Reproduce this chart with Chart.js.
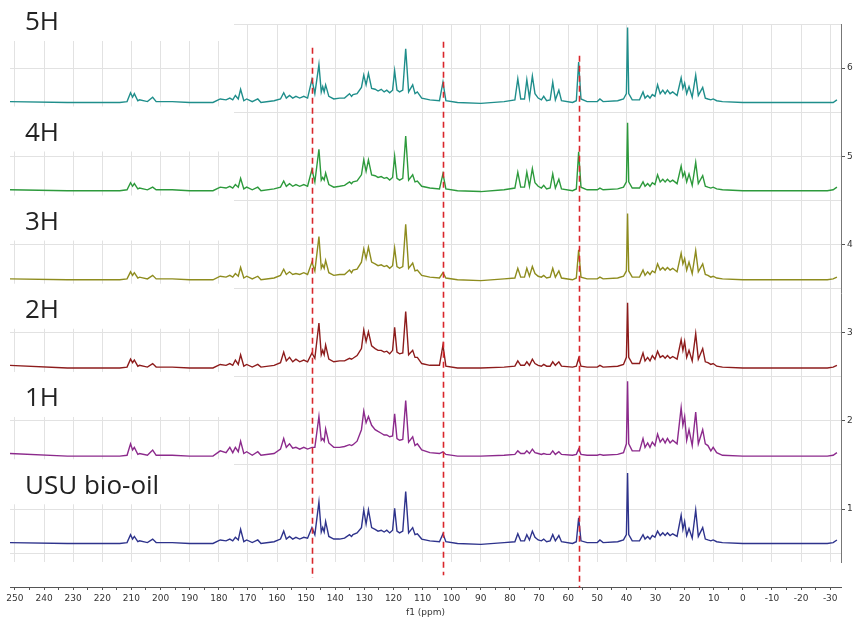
<!DOCTYPE html>
<html>
<head>
<meta charset="utf-8">
<script src="https://cdn.jsdelivr.net/npm/chart.js@4.4.1/dist/chart.umd.min.js"></script>
<style>
  html, body { margin: 0; padding: 0; background: #fff; }
  #wrap { width: 855px; height: 619px; position: relative; }
</style>
</head>
<body>
<div id="wrap"><canvas id="nmr-stack"></canvas></div>
<script>
// chemical shift points (ppm), shared by all traces
var ppm = [
  252, 232, 214, 211.5, 210.3, 209.6, 209.0, 207.8, 207.2, 204.5,
  202.7, 201.5, 196, 190, 182, 179.5, 177.5, 176.2, 175.2, 174.3,
  173.3, 172.5, 171.4, 170.4, 168.5, 166.6, 165.5, 161, 158.8, 157.7,
  156.8, 155.7, 154.6, 153.5, 152.2, 150.8, 149.5, 148.0, 147.0, 145.6,
  144.8, 144.3, 143.8, 143.3, 142.2, 140.5, 138.5, 136.8, 135.1, 134.4,
  133.9, 132.5, 131.0, 130.2, 129.4, 128.6, 127.5, 126.3, 125.3, 124.2,
  123.2, 122.3, 121.3, 120.3, 119.6, 118.8, 117.9, 116.8, 115.8, 114.8,
  113.4, 112.6, 111.8, 110.3, 107.5, 104.2, 103.0, 102.0, 98, 90,
  82, 78.3, 77.3, 76.3, 75.0, 74.2, 73.3, 72.3, 71.4, 70.3,
  69.2, 68.4, 67.4, 66.2, 65.3, 64.4, 63.2, 62.3, 58.5, 57.2,
  56.4, 55.6, 53.5, 50, 49.1, 48, 43, 41.0, 40.0, 39.6,
  39.2, 38.0, 35.5, 34.3, 33.6, 32.7, 31.9, 31.1, 30.2, 29.3,
  28.4, 27.5, 26.7, 25.9, 25.0, 24.1, 22.6, 21.2, 20.6, 20.0,
  19.3, 18.5, 17.4, 16.2, 15.3, 13.8, 12.9, 12.0, 11.0, 10.2,
  9.0, 7.0, 0, -10, -20, -29, -31, -32.3
];

// sample names (top to bottom) and the stacking offset of each baseline
var names = ['5H', '4H', '3H', '2H', '1H', 'USU bio-oil'];
var offsets = [5.61, 4.61, 3.6, 2.6, 1.6, 0.61];

// intensities above baseline, one value per ppm point
var h5H = [
  0.01,0,0,0.01,0.11,0.06,0.10,0.02,0.03,0.01,
  0.06,0.01,0.01,0,0,0.04,0.03,0.05,0.03,0.08,
  0.04,0.15,0.02,0.04,0.01,0.04,0,0.02,0.04,0.11,
  0.05,0.08,0.05,0.07,0.05,0.07,0.05,0.26,0.10,0.43,
  0.12,0.18,0.12,0.20,0.07,0.04,0.05,0.05,0.10,0.07,
  0.09,0.10,0.17,0.31,0.20,0.33,0.16,0.15,0.13,0.15,
  0.12,0.14,0.11,0.14,0.36,0.14,0.12,0.14,0.61,0.12,
  0.20,0.10,0.12,0.05,0.03,0.02,0.23,0.02,0,-0.01,
  0.01,0.03,0.27,0.04,0.04,0.26,0.05,0.30,0.10,0.05,
  0.03,0.07,0.02,0.03,0.23,0.03,0.14,0.02,0,0.02,
  0.46,0.04,0.01,0.01,0.04,0.01,0.02,0.04,0.10,0.85,
  0.10,0.03,0.03,0.12,0.05,0.08,0.05,0.09,0.07,0.20,
  0.10,0.14,0.10,0.14,0.10,0.12,0.08,0.28,0.16,0.22,
  0.10,0.18,0.06,0.31,0.08,0.17,0.05,0.04,0.03,0.04,
  0.02,0.01,0,0,0,0,0,0.03
];
var h4H = [
  0.01,0,0,0.01,0.09,0.05,0.08,0.02,0.03,0.01,
  0.04,0.01,0.01,0,0,0.04,0.03,0.05,0.03,0.07,
  0.04,0.14,0.02,0.04,0.01,0.04,0,0.02,0.04,0.11,
  0.05,0.08,0.05,0.07,0.05,0.07,0.05,0.24,0.10,0.47,
  0.12,0.15,0.12,0.20,0.07,0.04,0.05,0.06,0.10,0.08,
  0.10,0.11,0.18,0.35,0.22,0.35,0.18,0.17,0.15,0.16,
  0.14,0.15,0.12,0.15,0.39,0.14,0.12,0.14,0.62,0.12,
  0.18,0.10,0.11,0.05,0.03,0.02,0.19,0.02,0,-0.01,
  0.01,0.03,0.21,0.04,0.04,0.21,0.05,0.25,0.09,0.05,
  0.03,0.06,0.02,0.03,0.19,0.03,0.13,0.02,0,0.02,
  0.44,0.04,0.01,0.01,0.03,0.01,0.02,0.04,0.10,0.77,
  0.10,0.03,0.03,0.10,0.05,0.08,0.05,0.09,0.07,0.18,
  0.10,0.13,0.10,0.13,0.10,0.12,0.08,0.28,0.16,0.21,
  0.10,0.19,0.06,0.32,0.08,0.17,0.05,0.04,0.03,0.04,
  0.02,0.01,0,0,0,0,0.01,0.04
];
var h3H = [
  0.01,0,0,0.01,0.09,0.05,0.08,0.02,0.03,0.01,
  0.05,0.01,0.01,0,0,0.04,0.03,0.05,0.03,0.07,
  0.04,0.14,0.02,0.04,0.01,0.04,0,0.02,0.05,0.12,
  0.06,0.09,0.06,0.07,0.06,0.08,0.06,0.20,0.10,0.49,
  0.13,0.17,0.13,0.22,0.08,0.05,0.06,0.06,0.11,0.08,
  0.11,0.12,0.20,0.35,0.24,0.37,0.20,0.18,0.16,0.17,
  0.15,0.16,0.13,0.16,0.36,0.15,0.13,0.15,0.63,0.13,
  0.19,0.10,0.11,0.05,0.03,0.02,0.08,0.02,0,-0.01,
  0.01,0.02,0.13,0.03,0.03,0.13,0.04,0.15,0.07,0.04,
  0.03,0.05,0.02,0.03,0.13,0.03,0.10,0.02,0,0.02,
  0.34,0.03,0.01,0.01,0.03,0.01,0.02,0.04,0.10,0.75,
  0.10,0.03,0.03,0.11,0.05,0.09,0.06,0.10,0.08,0.18,
  0.11,0.14,0.11,0.14,0.11,0.13,0.09,0.30,0.18,0.24,
  0.11,0.20,0.07,0.33,0.09,0.18,0.06,0.05,0.03,0.04,
  0.02,0.01,0,0,0,0,0.01,0.03
];
var h2H = [
  0.03,0,0,0.01,0.10,0.06,0.09,0.02,0.03,0.01,
  0.05,0.01,0.01,0,0,0.04,0.03,0.05,0.03,0.09,
  0.04,0.15,0.02,0.04,0.01,0.04,0.01,0.03,0.06,0.18,
  0.08,0.12,0.07,0.10,0.07,0.09,0.07,0.17,0.11,0.51,
  0.15,0.20,0.15,0.26,0.10,0.07,0.08,0.08,0.11,0.10,
  0.11,0.14,0.22,0.43,0.30,0.41,0.25,0.22,0.20,0.20,
  0.18,0.19,0.16,0.20,0.46,0.18,0.16,0.17,0.64,0.15,
  0.20,0.12,0.12,0.05,0.03,0.03,0.26,0.02,0,0,
  0.01,0.02,0.08,0.03,0.03,0.07,0.03,0.10,0.05,0.03,
  0.02,0.04,0.02,0.02,0.07,0.03,0.07,0.02,0.01,0.02,
  0.11,0.02,0.01,0.01,0.03,0.01,0.02,0.04,0.12,0.74,
  0.12,0.05,0.05,0.17,0.08,0.12,0.08,0.14,0.10,0.19,
  0.12,0.14,0.11,0.14,0.11,0.13,0.10,0.32,0.20,0.30,
  0.12,0.20,0.08,0.39,0.10,0.22,0.07,0.06,0.04,0.05,
  0.02,0.01,0,0,0,0,0.01,0.03
];
var h1H = [
  0.03,0,0,0.01,0.14,0.07,0.10,0.02,0.03,0.01,
  0.07,0.01,0.01,0,0,0.06,0.04,0.10,0.04,0.10,
  0.05,0.17,0.03,0.05,0.01,0.05,0.01,0.03,0.08,0.20,
  0.10,0.14,0.09,0.10,0.08,0.10,0.08,0.10,0.10,0.45,
  0.18,0.20,0.17,0.31,0.15,0.10,0.10,0.11,0.13,0.12,
  0.13,0.17,0.30,0.51,0.38,0.45,0.35,0.30,0.28,0.26,
  0.24,0.24,0.22,0.23,0.48,0.20,0.18,0.19,0.63,0.16,
  0.22,0.12,0.14,0.07,0.04,0.03,0.05,0.02,0,0,
  0.01,0.02,0.06,0.03,0.03,0.06,0.03,0.08,0.04,0.03,
  0.02,0.03,0.02,0.02,0.06,0.02,0.05,0.02,0.01,0.02,
  0.08,0.02,0.01,0.01,0.02,0.01,0.02,0.04,0.14,0.85,
  0.14,0.06,0.06,0.20,0.10,0.15,0.10,0.16,0.12,0.25,
  0.16,0.20,0.15,0.20,0.15,0.18,0.14,0.55,0.35,0.45,
  0.18,0.30,0.12,0.50,0.14,0.30,0.14,0.12,0.06,0.10,
  0.04,0.01,0,0,0,0,0.01,0.04
];
var hUSU = [
  0.01,0,0,0.01,0.10,0.05,0.08,0.02,0.03,0.01,
  0.05,0.01,0.01,0,0,0.04,0.03,0.05,0.03,0.07,
  0.04,0.16,0.02,0.04,0.01,0.04,0,0.02,0.05,0.14,
  0.05,0.08,0.05,0.07,0.05,0.07,0.06,0.18,0.10,0.47,
  0.13,0.18,0.13,0.25,0.08,0.05,0.05,0.06,0.10,0.08,
  0.10,0.12,0.18,0.38,0.22,0.38,0.18,0.16,0.14,0.15,
  0.13,0.15,0.12,0.15,0.40,0.14,0.12,0.14,0.59,0.12,
  0.18,0.10,0.11,0.05,0.03,0.02,0.11,0.02,0,-0.01,
  0.01,0.02,0.11,0.03,0.03,0.10,0.04,0.14,0.07,0.04,
  0.03,0.05,0.02,0.03,0.10,0.03,0.09,0.02,0,0.02,
  0.29,0.03,0.01,0.01,0.04,0.01,0.02,0.04,0.10,0.80,
  0.10,0.03,0.03,0.10,0.05,0.08,0.05,0.09,0.07,0.14,
  0.09,0.12,0.09,0.12,0.09,0.11,0.08,0.32,0.16,0.25,
  0.09,0.17,0.06,0.38,0.08,0.18,0.05,0.04,0.03,0.04,
  0.02,0.01,0,0,0,0,0.01,0.04
];
var traces = [h5H, h4H, h3H, h2H, h1H, hUSU];

// red dashed marker lines: ppm position, top and bottom in axis units
var markPpm = [148, 103, 56.4];
var markTop = [6.23, 6.30, 6.14];
var markBottom = [0.22, 0.25, 0.11];

var colors = ['#1f8e8b', '#2d9a3c', '#8e8c1e', '#8d1c1c', '#8c2a8c', '#2e338c'];
var tickFont = { family: 'DejaVu Sans', size: 9 };

function isWhole(v, step) {
    return Math.abs(v / step - Math.round(v / step)) < 1e-6;
}

// sample names on white boxes, drawn over the grid but under the traces
var sampleLabels = {
    id: 'sampleLabels',
    beforeDatasetsDraw: function(chart) {
        var ctx = chart.ctx, y = chart.scales.y, area = chart.chartArea;
        ctx.save();
        ctx.font = '26px "Open Sans"';
        ctx.textBaseline = 'middle';
        names.forEach(function(n, i) {
            var cy = i === 0 ? area.top - 2 : y.getPixelForValue(offsets[i] + 0.66);
            ctx.fillStyle = '#ffffff';
            ctx.fillRect(0, cy - 26, 234, 45);
            ctx.fillStyle = '#222222';
            ctx.fillText(n, 25, cy + 1);
        });
        ctx.restore();
    }
};

var markerLines = {
    id: 'markerLines',
    afterDatasetsDraw: function(chart) {
        var ctx = chart.ctx, x = chart.scales.x, y = chart.scales.y;
        ctx.save();
        ctx.strokeStyle = '#d9262b';
        ctx.lineWidth = 1.6;
        ctx.setLineDash([6, 4]);
        markPpm.forEach(function(p, i) {
            var px = Math.round(x.getPixelForValue(p)) + 0.5;
            ctx.beginPath();
            ctx.moveTo(px, y.getPixelForValue(markTop[i]));
            ctx.lineTo(px, y.getPixelForValue(markBottom[i]));
            ctx.stroke();
        });
        ctx.restore();
    }
};

var chartData = {
    datasets: traces.map(function(h, i) {
        return {
            label: names[i],
            data: ppm.map(function(p, j) { return { x: p, y: offsets[i] + h[j] }; }),
            borderColor: colors[i],
            borderWidth: 1.4,
            pointRadius: 0,
            tension: 0,
            fill: false
        };
    })
};

var chartOptions = {
    responsive: true,
    maintainAspectRatio: false,
    animation: false,
    layout: { padding: { left: 10, top: 24, right: 0, bottom: 0 } },
    plugins: { legend: { display: false }, tooltip: { enabled: false } },
    scales: {
        x: {
            type: 'linear',
            position: 'bottom',
            reverse: true,
            min: -33.7,
            max: 251.7,
            weight: 1,
            afterFit: function(s) { s.height = 32; },
            border: { color: '#555' },
            grid: {
                color: function(c) { return isWhole(c.tick.value, 10) ? '#e2e2e2' : 'rgba(0,0,0,0)'; },
                tickColor: '#555',
                tickLength: 3
            },
            ticks: {
                stepSize: 5,
                includeBounds: false,
                autoSkip: false,
                maxRotation: 0,
                padding: 3,
                color: '#333',
                font: tickFont,
                callback: function(v) { return isWhole(v, 10) ? Math.round(v) : ''; }
            },
            title: {
                display: true,
                text: 'f1 (ppm)',
                color: '#333',
                font: tickFont,
                padding: { top: 0, bottom: 1 }
            }
        },
        // empty band between the plot area and the ppm axis
        xGap: {
            type: 'linear',
            position: 'bottom',
            weight: 0,
            min: 0,
            max: 1,
            afterFit: function(s) { s.height = 25; },
            grid: { display: false },
            border: { display: false },
            ticks: { display: false }
        },
        y: {
            type: 'linear',
            position: 'right',
            min: 0.4,
            max: 6.5,
            afterFit: function(s) { s.width = 14; },
            border: { color: '#777' },
            grid: {
                color: '#e2e2e2',
                tickColor: function(c) { return isWhole(c.tick.value, 1) ? '#555' : 'rgba(0,0,0,0)'; },
                tickLength: 4
            },
            ticks: {
                stepSize: 0.5,
                includeBounds: false,
                autoSkip: false,
                padding: 2,
                color: '#333',
                font: tickFont,
                callback: function(v) { return isWhole(v, 1) ? Math.round(v) : ''; }
            }
        }
    }
};

var ctx = document.getElementById('nmr-stack');
var config = {
    type: 'line',
    data: chartData,
    options: chartOptions,
    plugins: [sampleLabels, markerLines]
};

var nmrChart = new Chart(ctx, config);
</script>
</body>
</html>
